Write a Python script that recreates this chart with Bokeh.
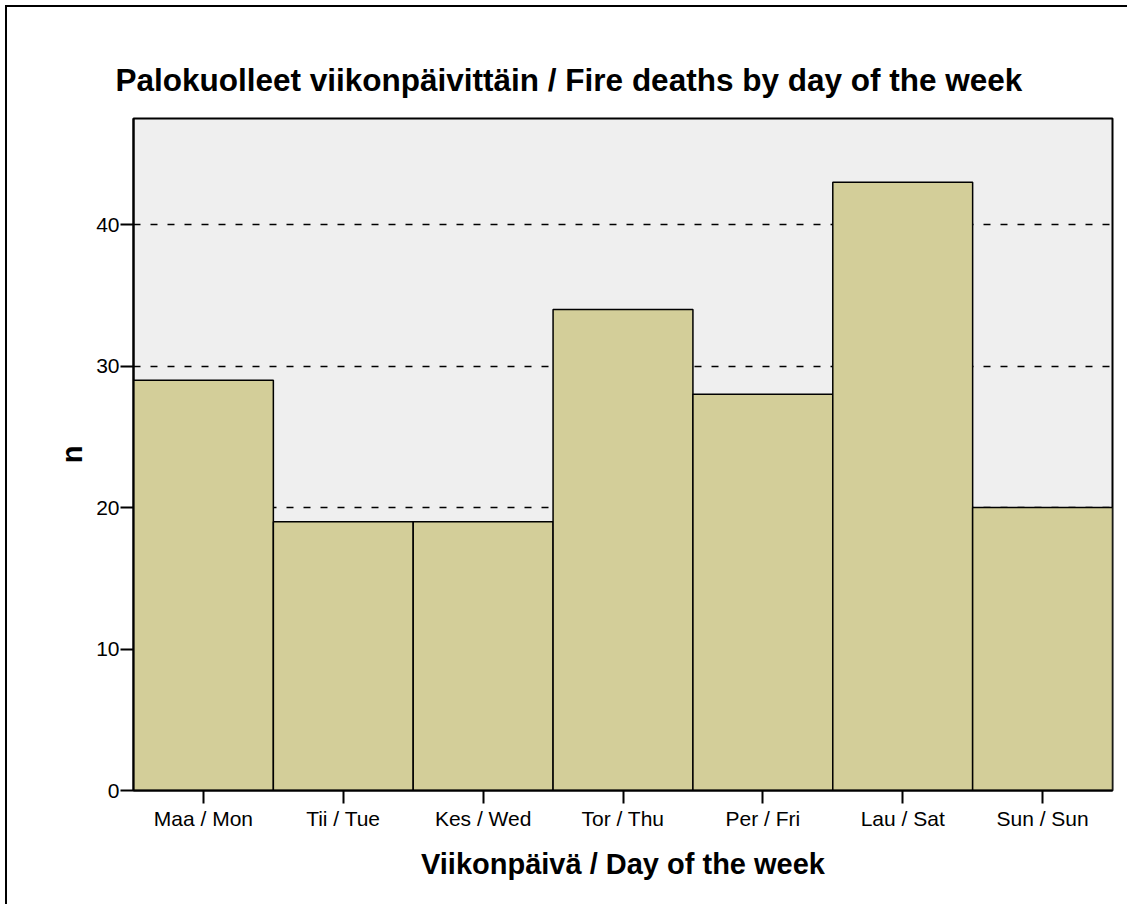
from bokeh.plotting import figure
from bokeh.models import FactorRange, Range1d, FixedTicker, Title
from bokeh.embed import file_html
from bokeh.resources import INLINE

days = ["Maa / Mon", "Tii / Tue", "Kes / Wed", "Tor / Thu", "Per / Fri", "Lau / Sat", "Sun / Sun"]
counts = [29, 19, 19, 34, 28, 43, 20]
y_ticks = [0, 10, 20, 30, 40]

FONT = "Liberation Sans"

p = figure(
    x_range=FactorRange(*days, range_padding=0),
    y_range=Range1d(0, 47.5),
    width=1122, height=899,
    output_backend="svg", toolbar_location=None,
    min_border_left=126, min_border_top=111, min_border_right=17, min_border_bottom=116,
)
p.styles = {"border-left": "2px solid black", "border-top": "2px solid black",
            "margin-left": "5px", "margin-top": "5px"}

p.title = Title(text="Palokuolleet viikonpäivittäin / Fire deaths by day of the week",
                align="left", offset=-18, text_font=FONT, text_font_size="31.5px",
                text_font_style="bold", text_color="black", standoff=41)

p.background_fill_color = "#efefef"
p.border_fill_color = "white"
p.outline_line_color = "black"
p.outline_line_width = 2

p.vbar(x=days, top=counts, width=1.0, fill_color="#d3ce99", line_color="black", line_width=1.5)

# grid
p.xgrid.grid_line_color = None
p.ygrid.ticker = FixedTicker(ticks=y_ticks)
p.ygrid.grid_line_color = "black"
p.ygrid.grid_line_dash = "7 10"
p.ygrid.grid_line_width = 1.5

# y axis
p.yaxis.ticker = FixedTicker(ticks=y_ticks)
p.yaxis.minor_tick_line_color = None
p.yaxis.major_tick_out = 13
p.yaxis.major_tick_in = 0
p.yaxis.major_tick_line_width = 2
p.yaxis.axis_line_width = 2
p.yaxis.major_label_text_font = FONT
p.yaxis.major_label_text_font_size = "21px"
p.yaxis.major_label_text_color = "black"
p.yaxis.major_label_standoff = 1
p.yaxis.axis_label = "n"
p.yaxis.axis_label_text_font = FONT
p.yaxis.axis_label_text_font_size = "29px"
p.yaxis.axis_label_text_font_style = "bold"
p.yaxis.axis_label_text_color = "black"
p.yaxis.axis_label_standoff = 5

# x axis
p.xaxis.major_tick_out = 13
p.xaxis.major_tick_in = 0
p.xaxis.major_tick_line_width = 2
p.xaxis.axis_line_width = 2
p.xaxis.major_label_text_font = FONT
p.xaxis.major_label_text_font_size = "21px"
p.xaxis.major_label_text_color = "black"
p.xaxis.major_label_standoff = 3
p.xaxis.axis_label = "Viikonpäivä / Day of the week"
p.xaxis.axis_label_text_font = FONT
p.xaxis.axis_label_text_font_size = "29px"
p.xaxis.axis_label_text_font_style = "bold"
p.xaxis.axis_label_text_color = "black"
p.xaxis.axis_label_standoff = 15

open("out.html", "w").write(file_html(p, INLINE))
